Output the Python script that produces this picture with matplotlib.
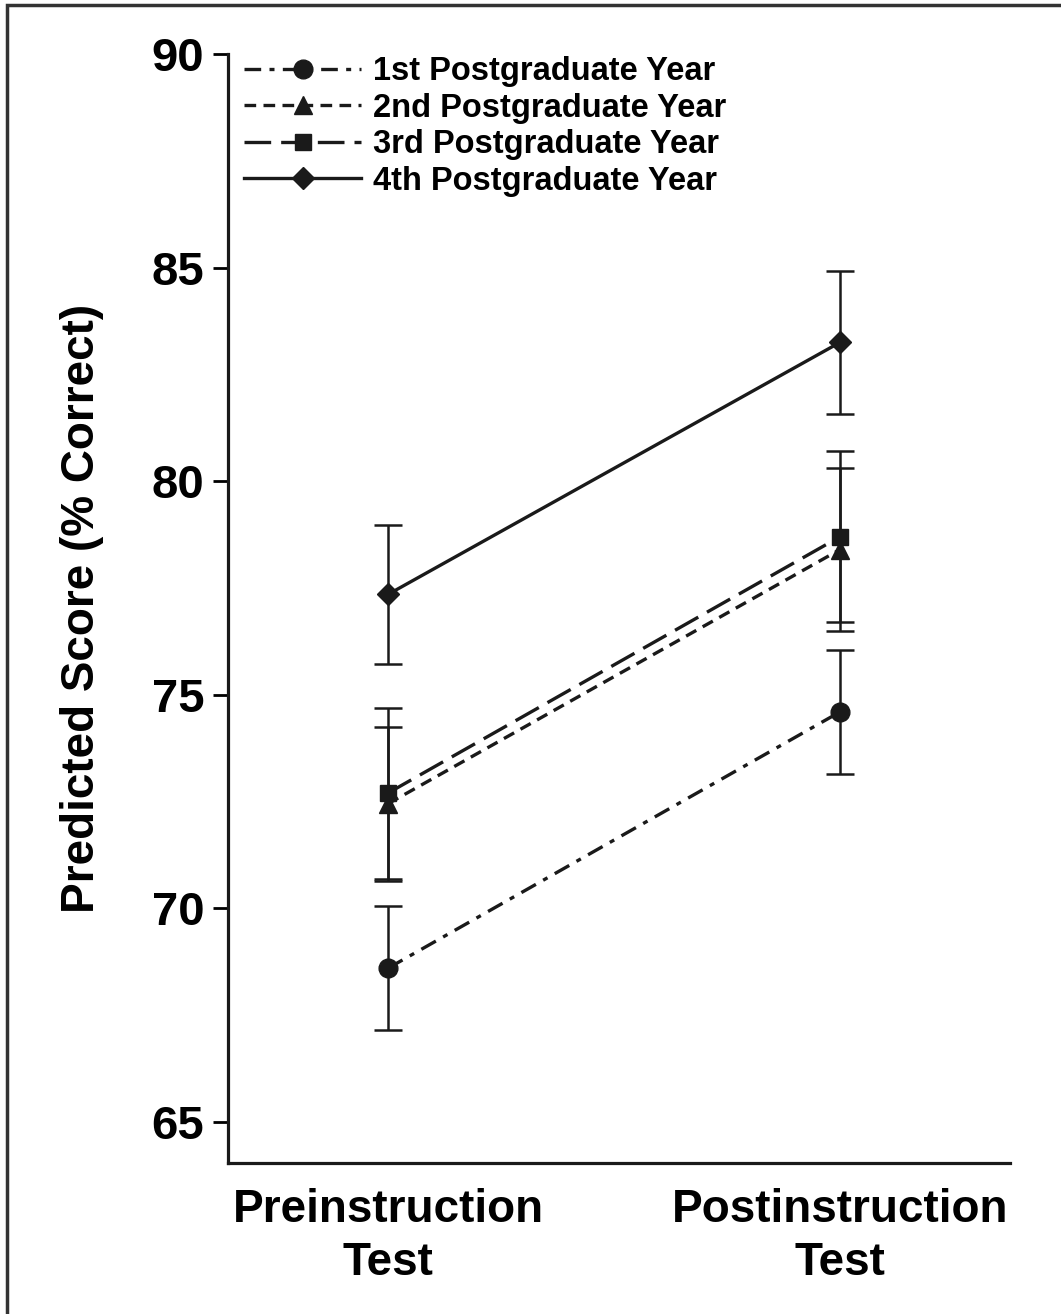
import matplotlib
matplotlib.use("Agg")
import matplotlib.pyplot as plt
from matplotlib.patches import Rectangle

# ── data ─────────────────────────────────────────────────────────────────────
tests = ["Preinstruction\nTest", "Postinstruction\nTest"]
labels = ["1st Postgraduate Year", "2nd Postgraduate Year",
          "3rd Postgraduate Year", "4th Postgraduate Year"]
pgy1 = [68.6, 74.6]
pgy2 = [72.45, 78.4]
pgy3 = [72.7, 78.7]
pgy4 = [77.35, 83.25]
err1 = [1.45, 1.45]
err2 = [1.8, 1.9]
err3 = [2.0, 2.0]
err4 = [1.62, 1.68]

plt.rcParams["font.family"] = ["Liberation Sans", "DejaVu Sans"]
plt.rcParams["font.weight"] = "bold"

fig = plt.figure(figsize=(10.61, 13.14), dpi=100)
ax = fig.add_axes([0.2149, 0.1149, 0.7370, 0.8440])

x = [0, 1]
styles = [
    (pgy1, err1, (0, (5, 2.5, 1.5, 2.5)), "o", 13.5),
    (pgy2, err2, (0, (3.5, 2.2)), "^", 13.5),
    (pgy3, err3, (0, (8, 3)), "s", 11.5),
    (pgy4, err4, "-", "D", 11.5),
]
for (ys, es, ls, mk, ms), lab in zip(styles, labels):
    ax.errorbar(x, ys, yerr=es, fmt="none", ecolor="#1a1a1a", elinewidth=1.8,
                capsize=10, capthick=1.8, zorder=2)
    ax.plot(x, ys, color="#1a1a1a", linestyle=ls, linewidth=2.4, marker=mk,
            markersize=ms, markerfacecolor="#1a1a1a", markeredgecolor="#1a1a1a",
            label=lab, zorder=3)

ax.set_xlim(-0.354, 1.376)
ax.set_ylim(64.04, 90)
ax.set_yticks([65, 70, 75, 80, 85, 90])
ax.set_xticks(x)
ax.set_xticklabels(tests, fontsize=33, fontweight="bold", linespacing=1.25)
ax.tick_params(axis="x", length=0, pad=18)
ax.tick_params(axis="y", length=11, width=2, labelsize=34, pad=6)
for lab in ax.get_yticklabels():
    lab.set_fontweight("bold")

for s in ["top", "right"]:
    ax.spines[s].set_visible(False)
for s in ["left", "bottom"]:
    ax.spines[s].set_linewidth(2.3)
    ax.spines[s].set_color("#1a1a1a")

ax.set_ylabel("Predicted Score (% Correct)", fontsize=33, fontweight="bold",
              labelpad=34)

leg = ax.legend(loc="upper left", bbox_to_anchor=(0.012, 1.004), frameon=False,
                fontsize=23.5, handlelength=3.6, handletextpad=0.35,
                labelspacing=0.17, borderpad=0.2, borderaxespad=0)
for t in leg.get_texts():
    t.set_fontweight("bold")

# outer frame around the figure
fig.patches.append(Rectangle((7 / 1061, -0.05), 1.2, 1 - 5 / 1314 + 0.05,
                             transform=fig.transFigure, fill=False,
                             edgecolor="#333333", linewidth=2.5))

fig.savefig("out.png", dpi=100)
